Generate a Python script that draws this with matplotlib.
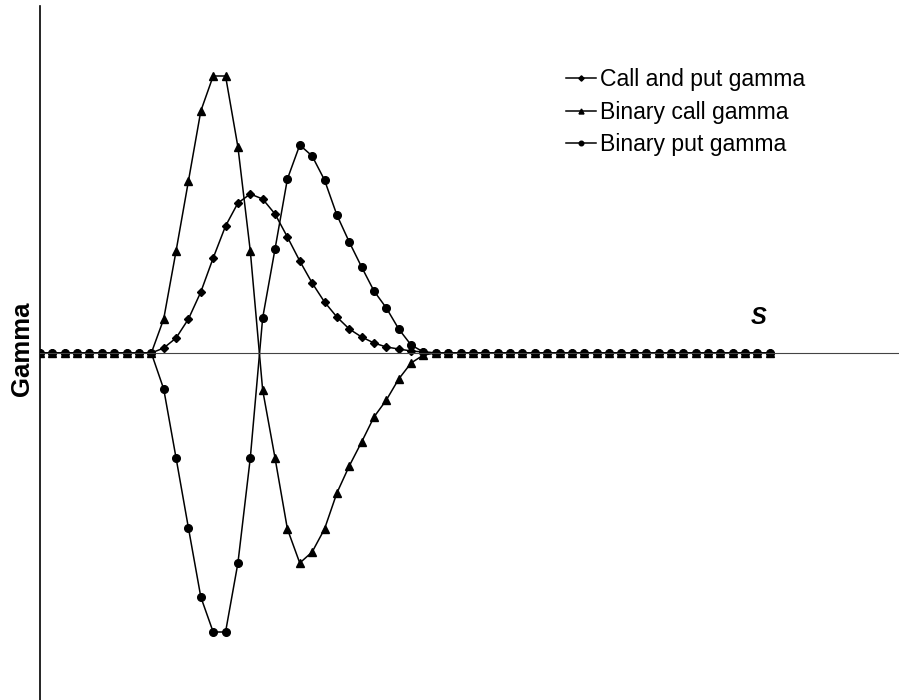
import matplotlib.pyplot as plt
import numpy as np

plt.rcParams['font.family'] = ['Liberation Sans', 'DejaVu Sans']

# Data (arbitrary gamma units) ------------------------------------
n_points = 60
s_index = np.arange(n_points)

# non-zero stretch starts at index 10
call_put_nonzero = [5, 15, 34, 61, 95, 127, 150, 159, 154, 139, 116, 92, 70,
                    51, 36, 24, 16, 10, 6, 4, 2, 1]
binary_call_nonzero = [34, 102, 172, 242, 277, 277, 206, 102, -37, -105, -176,
                       -210, -199, -176, -140, -113, -89, -64, -47, -26, -10, -2]
binary_put_nonzero = [-36, -105, -175, -244, -279, -279, -210, -105, 35, 104,
                      174, 208, 197, 173, 138, 111, 86, 62, 45, 24, 8, 1]

start = 10


def pad(vals):
    out = np.zeros(n_points)
    out[start:start + len(vals)] = vals
    return out


call_put_gamma = pad(call_put_nonzero)
binary_call_gamma = pad(binary_call_nonzero)
binary_put_gamma = pad(binary_put_nonzero)

# Plot ------------------------------------------------------------
fig = plt.figure(figsize=(8.99, 7.0), dpi=100)
ax = fig.add_axes([40 / 899, 0, 859 / 899, 694 / 700])

ax.plot(s_index, call_put_gamma, color='black', lw=1.1, marker='D',
        markersize=4.5, label='Call and put gamma')
ax.plot(s_index, binary_call_gamma, color='black', lw=1.1, marker='^',
        markersize=6, label='Binary call gamma')
ax.plot(s_index, binary_put_gamma, color='black', lw=1.1, marker='o',
        markersize=5.5, label='Binary put gamma')

ax.set_xlim(0, 859 / 12.37)
ax.set_ylim(-347, 347)

ax.spines['top'].set_visible(False)
ax.spines['right'].set_visible(False)
ax.spines['bottom'].set_position(('data', 0))
ax.spines['bottom'].set_color('#444444')
ax.spines['left'].set_linewidth(1.2)
ax.set_xticks([])
ax.set_yticks([])

ax.text(58.1, 36, 'S', fontsize=17, fontweight='bold', style='italic',
        ha='center', va='center')
fig.text(22 / 899, 1 - 349 / 700, 'Gamma', fontsize=18.5, fontweight='bold',
         rotation=90, ha='center', va='center')

leg = ax.legend(loc='upper left', bbox_to_anchor=(0.588, 0.94), frameon=False,
                fontsize=16.6, handlelength=1.3, handletextpad=0.2,
                labelspacing=0.4, markerscale=0.6)

fig.savefig('out.png', dpi=100)
